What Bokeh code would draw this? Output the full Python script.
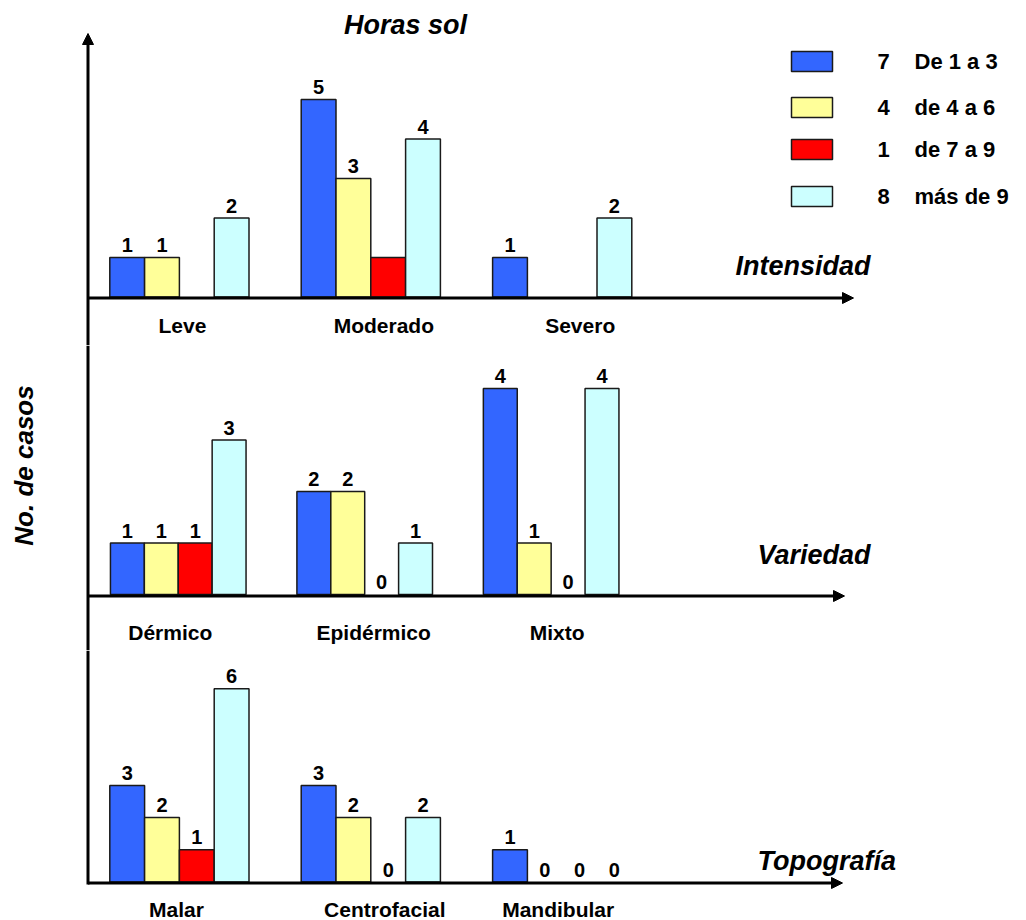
from bokeh.plotting import figure
from bokeh.layouts import column
from bokeh.models import Range1d, Arrow, NormalHead
from bokeh.core.properties import value
from bokeh.embed import file_html
from bokeh.resources import INLINE

# ---------------------------------------------------------------- data
SERIES_NAMES = ["De 1 a 3", "de 4 a 6", "de 7 a 9", "más de 9"]
SERIES_COLORS = ["#3366FF", "#FFFF99", "#FF0000", "#CCFFFF"]

INTENSIDAD_CATS = ["Leve", "Moderado", "Severo"]
INTENSIDAD_DE_1_A_3 = [1, 5, 1]
INTENSIDAD_DE_4_A_6 = [1, 3, 0]
INTENSIDAD_DE_7_A_9 = [0, 1, 0]
INTENSIDAD_MAS_DE_9 = [2, 4, 2]

VARIEDAD_CATS = ["Dérmico", "Epidérmico", "Mixto"]
VARIEDAD_DE_1_A_3 = [1, 2, 4]
VARIEDAD_DE_4_A_6 = [1, 2, 1]
VARIEDAD_DE_7_A_9 = [1, 0, 0]
VARIEDAD_MAS_DE_9 = [3, 1, 4]

TOPOGRAFIA_CATS = ["Malar", "Centrofacial", "Mandibular"]
TOPOGRAFIA_DE_1_A_3 = [3, 3, 1]
TOPOGRAFIA_DE_4_A_6 = [2, 2, 0]
TOPOGRAFIA_DE_7_A_9 = [1, 0, 0]
TOPOGRAFIA_MAS_DE_9 = [6, 2, 0]

# ---------------------------------------------------------------- layout
W = 1026
FONT = value("Liberation Sans")
GROUP_PITCH = 5.5          # group spacing, in bar widths
AXIS_X_PX = 87.5           # vertical axis position (px from left)
AXIS_TOP_PX = 33           # tip of the vertical arrow
AXIS_BOTTOM_PX = 884
VALUE_LABEL_GAP_PX = 12.5  # bar top to centre of its value label

PANELS = [
    dict(title="Intensidad", cats=INTENSIDAD_CATS,
         series=[INTENSIDAD_DE_1_A_3, INTENSIDAD_DE_4_A_6,
                 INTENSIDAD_DE_7_A_9, INTENSIDAD_MAS_DE_9],
         top=0, height=345, base=296.5, unit=39.5, bar=34.8, c0=126.7,
         axis_py=297.5, axis_end=853, label_py=325,
         label_nudge=[3, 13, 18], title_x=735, title_py=265,
         show_zero=False, unlabeled=[2]),
    dict(title="Variedad", cats=VARIEDAD_CATS,
         series=[VARIEDAD_DE_1_A_3, VARIEDAD_DE_4_A_6,
                 VARIEDAD_DE_7_A_9, VARIEDAD_MAS_DE_9],
         top=345, height=305, base=594, unit=51.5, bar=33.9, c0=126.9,
         axis_py=595.5, axis_end=844, label_py=632,
         label_nudge=[-8, 9, 6], title_x=757, title_py=554,
         show_zero=True, unlabeled=[]),
    dict(title="Topografía", cats=TOPOGRAFIA_CATS,
         series=[TOPOGRAFIA_DE_1_A_3, TOPOGRAFIA_DE_4_A_6,
                 TOPOGRAFIA_DE_7_A_9, TOPOGRAFIA_MAS_DE_9],
         top=650, height=270, base=881.5, unit=32.2, bar=34.8, c0=126.7,
         axis_py=882.5, axis_end=842, label_py=908.5,
         label_nudge=[-3, 14, -4], title_x=757, title_py=860,
         show_zero=True, unlabeled=[]),
]

LEGEND_SWATCH_LEFT, LEGEND_SWATCH_RIGHT = 791, 832
LEGEND_ROW_TOPS = [51, 97, 139, 186]
LEGEND_SWATCH_H = 20
LEGEND_COUNT_X = 883
LEGEND_LABEL_X = 914


def make_panel(cfg, first, last):
    bar, c0, base, unit = cfg["bar"], cfg["c0"], cfg["base"], cfg["unit"]
    top, h = cfg["top"], cfg["height"]

    def xd(px):
        return (px - c0) / bar

    def yd(py):
        return (base - py) / unit

    p = figure(width=W, height=h,
               x_range=Range1d(xd(0), xd(W)),
               y_range=Range1d(yd(top + h), yd(top)),
               x_axis_type=None, y_axis_type=None,
               output_backend="svg", toolbar_location=None,
               min_border=0, outline_line_color=None,
               background_fill_color="white", border_fill_color="white")
    p.grid.visible = False

    n = len(cfg["cats"])
    # bars and value labels
    for j, (vals, color) in enumerate(zip(cfg["series"], SERIES_COLORS)):
        xs = [i * GROUP_PITCH + j for i in range(n)]
        bx = [x for x, v in zip(xs, vals) if v > 0]
        bv = [v for v in vals if v > 0]
        p.vbar(x=bx, top=bv, bottom=0, width=1, fill_color=color,
               line_color="#1a1a1a", line_width=1.5)
        if j in cfg["unlabeled"]:
            continue
        if cfg["show_zero"]:
            lx, lv = xs, vals
        else:
            lx, lv = bx, bv
        p.text(x=lx, y=[v + VALUE_LABEL_GAP_PX / unit for v in lv],
               text=[str(v) for v in lv],
               text_align="center", text_baseline="middle",
               text_font=FONT, text_font_style="bold",
               text_font_size="20px", text_color="black")

    # category labels
    lxs = [i * GROUP_PITCH + 1.5 + cfg["label_nudge"][i] / bar for i in range(n)]
    p.text(x=lxs, y=[yd(cfg["label_py"])] * n, text=cfg["cats"],
           text_align="center", text_baseline="middle", text_font=FONT,
           text_font_style="bold", text_font_size="21px", text_color="black")

    # panel title
    p.text(x=[xd(cfg["title_x"])], y=[yd(cfg["title_py"])], text=[cfg["title"]],
           text_align="left", text_baseline="middle", text_font=FONT,
           text_font_style="bold italic", text_font_size="27px",
           text_color="black")

    # horizontal axis with arrow head
    ay = yd(cfg["axis_py"])
    p.add_layout(Arrow(x_start=xd(AXIS_X_PX), y_start=ay,
                       x_end=xd(cfg["axis_end"]), y_end=ay,
                       line_width=3, line_color="black",
                       end=NormalHead(size=11, fill_color="black",
                                      line_color="black", line_width=1)))

    # vertical axis (continuous across panels)
    vx = xd(AXIS_X_PX)
    y_lo = yd(AXIS_BOTTOM_PX) if last else yd(top + h)
    if first:
        p.add_layout(Arrow(x_start=vx, y_start=y_lo, x_end=vx, y_end=yd(AXIS_TOP_PX),
                           line_width=3, line_color="black",
                           end=NormalHead(size=11, fill_color="black",
                                          line_color="black", line_width=1)))
    else:
        p.segment(x0=[vx], y0=[y_lo], x1=[vx], y1=[yd(top)],
                  line_width=3, line_color="black")
    return p, xd, yd


panels = []
for k, cfg in enumerate(PANELS):
    p, xd, yd = make_panel(cfg, k == 0, k == len(PANELS) - 1)
    panels.append((p, xd, yd))

# header and legend live in the top panel
p1, xd1, yd1 = panels[0]
p1.text(x=[xd1(405)], y=[yd1(24.5)], text=["Horas sol"],
        text_align="center", text_baseline="middle", text_font=FONT,
        text_font_style="bold italic", text_font_size="27px", text_color="black")

totals = [sum(s) for s in PANELS[0]["series"]]
p1.quad(left=[xd1(LEGEND_SWATCH_LEFT)] * 4, right=[xd1(LEGEND_SWATCH_RIGHT)] * 4,
        top=[yd1(t) for t in LEGEND_ROW_TOPS],
        bottom=[yd1(t + LEGEND_SWATCH_H) for t in LEGEND_ROW_TOPS],
        fill_color=SERIES_COLORS, line_color="#1a1a1a", line_width=1.5)
row_mid = [yd1(t + LEGEND_SWATCH_H / 2) for t in LEGEND_ROW_TOPS]
p1.text(x=[xd1(LEGEND_COUNT_X)] * 4, y=row_mid, text=[str(t) for t in totals],
        text_align="center", text_baseline="middle", text_font=FONT,
        text_font_style="bold", text_font_size="22px", text_color="black")
p1.text(x=[xd1(LEGEND_LABEL_X)] * 4, y=row_mid, text=SERIES_NAMES,
        text_align="left", text_baseline="middle", text_font=FONT,
        text_font_style="bold", text_font_size="22px", text_color="black")

# shared y-axis title, placed in the middle panel
p2, xd2, yd2 = panels[1]
p2.text(x=[xd2(23)], y=[yd2(465)], text=["No. de casos"], angle=1.5707963,
        text_align="center", text_baseline="middle", text_font=FONT,
        text_font_style="bold italic", text_font_size="26px", text_color="black")

layout = column(*[p for p, _, _ in panels], spacing=0)
open("out.html", "w").write(file_html(layout, INLINE))
